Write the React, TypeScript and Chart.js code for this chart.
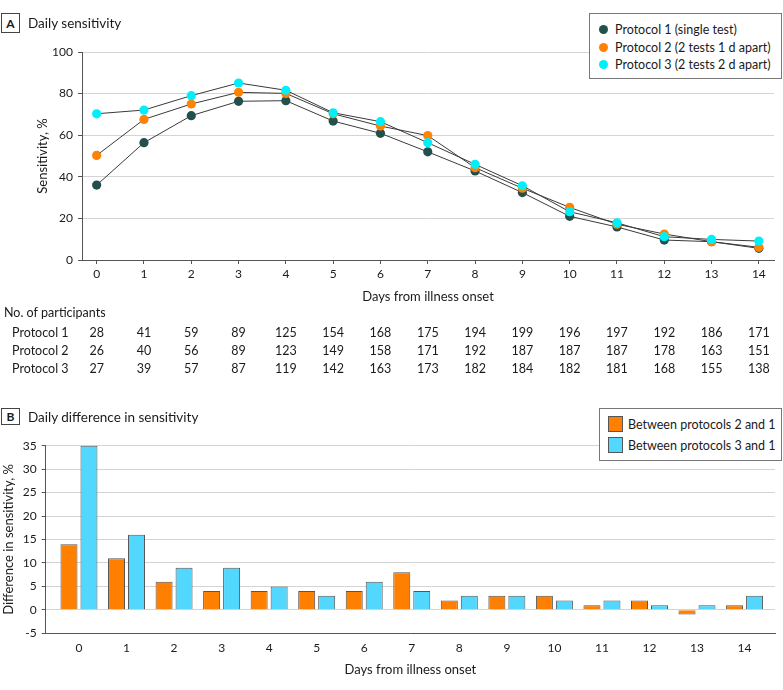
import React, { useEffect, useRef } from "react";
import { Chart, registerables } from "chart.js";

Chart.register(...registerables);

const FONT = "Lato";
const TEXT = "#1a1a1a";

const days = [0, 1, 2, 3, 4, 5, 6, 7, 8, 9, 10, 11, 12, 13, 14];
const protocol1 = [36, 56.4, 69.4, 76.3, 76.6, 66.8, 60.9, 52, 42.8, 32.4, 21, 15.9, 9.6, 8.8, 5.6];
const protocol2 = [50.3, 67.6, 75, 80.6, 80.1, 70.3, 64.4, 59.8, 44.4, 34.5, 25.3, 17.2, 12.5, 8.8, 6.1];
const protocol3 = [70.3, 72.1, 79, 85.1, 81.6, 70.8, 66.5, 56.4, 46, 35.7, 23.2, 17.9, 11.2, 9.9, 9.1];

const seriesNames = ["Protocol 1 (single test)", "Protocol 2 (2 tests 1 d apart)", "Protocol 3 (2 tests 2 d apart)"];
const seriesColors = ["#23504c", "#ff8205", "#00f0fa"];

const tableTitle = "No. of participants";
const tableLabels = ["Protocol 1", "Protocol 2", "Protocol 3"];
const participants1 = [28, 41, 59, 89, 125, 154, 168, 175, 194, 199, 196, 197, 192, 186, 171];
const participants2 = [26, 40, 56, 89, 123, 149, 158, 171, 192, 187, 187, 187, 178, 163, 151];
const participants3 = [27, 39, 57, 87, 119, 142, 163, 173, 182, 184, 182, 181, 168, 155, 138];

const diff21 = [14, 11, 6, 4, 4, 4, 4, 8, 2, 3, 3, 1, 2, -1, 1];
const diff31 = [35, 16, 9, 9, 5, 3, 6, 4, 3, 3, 2, 2, 1, 1, 3];
const diffNames = ["Between protocols 2 and 1", "Between protocols 3 and 1"];
const diffColors = ["#ff8000", "#52d8ff"];

const xTitle = "Days from illness onset";

const tablePlugin = {
  id: "participantsTable",
  afterDraw(chart: any) {
    const ctx = chart.ctx;
    const xs = chart.scales.x;
    const rows = [participants1, participants2, participants3];
    ctx.save();
    ctx.font = `12.5px ${FONT}`;
    ctx.fillStyle = TEXT;
    ctx.textBaseline = "middle";
    ctx.textAlign = "left";
    ctx.fillText(tableTitle, 4, 313);
    rows.forEach((row, r) => {
      const y = 333 + r * 18;
      ctx.textAlign = "left";
      ctx.fillText(tableLabels[r], 12, y);
      ctx.textAlign = "center";
      row.forEach((v, i) => ctx.fillText(String(v), xs.getPixelForValue(days[i]), y));
    });
    ctx.restore();
  },
};

const gridColor = "#d4d4d4";
const axisColor = "#555555";

export default function App() {
  const topRef = useRef<HTMLCanvasElement>(null);
  const botRef = useRef<HTMLCanvasElement>(null);

  useEffect(() => {
    const lineData = [protocol1, protocol2, protocol3];
    const top = new Chart(topRef.current!, {
      type: "line",
      data: {
        datasets: lineData.map((vals, k) => ({
          label: seriesNames[k],
          data: days.map((d, i) => ({ x: d, y: vals[i] })),
          borderColor: "#3a3a3a",
          borderWidth: 1,
          pointBackgroundColor: seriesColors[k],
          pointBorderColor: seriesColors[k],
          pointBorderWidth: 0,
          pointRadius: 4.6,
          tension: 0,
          fill: false,
          order: 3 - k,
        })),
      },
      options: {
        responsive: false,
        animation: false,
        layout: { padding: { top: 52, left: 0, right: 9, bottom: 75 } },
        plugins: { legend: { display: false }, tooltip: { enabled: false } },
        scales: {
          x: {
            type: "linear",
            min: -0.31,
            max: 14.32,
            offset: false,
            afterFit: (s: any) => { s.height = 50; },
            afterBuildTicks: (s: any) => { s.ticks = days.map((d) => ({ value: d })); },
            ticks: { stepSize: 1, padding: 3, color: TEXT, font: { family: FONT, size: 12 } },
            grid: { drawOnChartArea: false, drawTicks: true, tickLength: 4, tickColor: axisColor },
            border: { color: axisColor, width: 1 },
            title: { display: true, text: xTitle, color: TEXT, font: { family: FONT, size: 13 }, padding: { top: 0, bottom: 5 } },
          },
          y: {
            min: 0,
            max: 100,
            afterFit: (s: any) => { s.width = 82; },
            ticks: { stepSize: 20, padding: 5, color: TEXT, font: { family: FONT, size: 12 } },
            grid: { color: gridColor, tickLength: 4, tickColor: axisColor },
            border: { color: axisColor, width: 1 },
            title: { display: true, text: "Sensitivity, %", color: TEXT, font: { family: FONT, size: 13 }, padding: { top: 35, bottom: 0 } },
          },
        },
      },
      plugins: [tablePlugin],
    } as any);

    const barData = [diff21, diff31];
    const bot = new Chart(botRef.current!, {
      type: "bar",
      data: {
        datasets: barData.map((vals, k) => ({
          label: diffNames[k],
          data: days.map((d, i) => ({ x: d, y: vals[i] })),
          backgroundColor: diffColors[k],
          borderColor: "#555555",
          borderWidth: 1,
          categoryPercentage: 0.841,
          barPercentage: 0.85,
        })),
      },
      options: {
        responsive: false,
        animation: false,
        layout: { padding: { top: 60.7, left: 0, right: 8, bottom: 6.7 } },
        plugins: { legend: { display: false }, tooltip: { enabled: false } },
        scales: {
          x: {
            type: "linear",
            min: -0.7,
            max: 14.64,
            offset: false,
            afterFit: (s: any) => { s.height = 50; },
            afterBuildTicks: (s: any) => { s.ticks = days.map((d) => ({ value: d })); },
            ticks: { stepSize: 1, padding: 8, color: TEXT, font: { family: FONT, size: 12 } },
            grid: { offset: false, drawOnChartArea: false, drawTicks: false },
            border: { color: axisColor, width: 1 },
            title: { display: true, text: xTitle, color: TEXT, font: { family: FONT, size: 13 }, padding: { top: 0, bottom: 5.5 } },
          },
          y: {
            min: -5,
            max: 35,
            afterFit: (s: any) => { s.width = 45.7; },
            ticks: { stepSize: 5, padding: 5, color: TEXT, font: { family: FONT, size: 12 } },
            grid: { color: gridColor, tickLength: 4, tickColor: axisColor },
            border: { color: axisColor, width: 1 },
            title: { display: true, text: "Difference in sensitivity, %", color: TEXT, font: { family: FONT, size: 13 }, padding: { top: 1, bottom: 0 } },
          },
        },
      },
    } as any);

    return () => {
      top.destroy();
      bot.destroy();
    };
  }, []);

  const boxStyle = (top: number, h: number): React.CSSProperties => ({
    position: "absolute",
    left: 1,
    top,
    width: 19,
    height: h,
    border: "1px solid #444",
    boxSizing: "border-box",
    fontWeight: 700,
    fontSize: 12,
    display: "flex",
    alignItems: "center",
    justifyContent: "center",
    background: "#fff",
  });
  const headStyle = (top: number): React.CSSProperties => ({
    position: "absolute",
    left: 28,
    top,
    fontSize: 13.5,
    lineHeight: "20px",
    whiteSpace: "nowrap",
  });

  return (
    <div style={{ position: "absolute", left: 0, top: 0, width: 783, height: 690, background: "#fff", fontFamily: FONT, color: TEXT, overflow: "hidden" }}>
      <canvas ref={topRef} width={783} height={385} style={{ position: "absolute", left: 0, top: 0, display: "block" }} />
      <canvas ref={botRef} width={783} height={305} style={{ position: "absolute", left: 0, top: 385, display: "block" }} />

      <div style={boxStyle(13, 20)}>A</div>
      <div style={headStyle(13)}>Daily sensitivity</div>
      <div style={boxStyle(408, 17)}>B</div>
      <div style={headStyle(406.5)}>Daily difference in sensitivity</div>

      <div style={{ position: "absolute", left: 589, top: 13, width: 193, height: 66, border: "1px solid #777", boxSizing: "border-box", background: "#fff" }}>
        {seriesNames.map((n, k) => (
          <div key={n} style={{ position: "absolute", left: 9, top: 7 + k * 17.7, height: 17, display: "flex", alignItems: "center", whiteSpace: "nowrap", fontSize: 12.5 }}>
            <span style={{ width: 9, height: 9, borderRadius: "50%", background: seriesColors[k], display: "inline-block", marginRight: 7 }} />
            {n}
          </div>
        ))}
      </div>

      <div style={{ position: "absolute", left: 599, top: 408, width: 183, height: 53, border: "1px solid #777", boxSizing: "border-box", background: "#fff" }}>
        {diffNames.map((n, k) => (
          <div key={n} style={{ position: "absolute", left: 8, top: 7 + k * 21.3, height: 16, display: "flex", alignItems: "center", whiteSpace: "nowrap", fontSize: 12.5 }}>
            <span style={{ width: 15, height: 16, background: diffColors[k], border: "1px solid #555", boxSizing: "border-box", display: "inline-block", marginRight: 5 }} />
            {n}
          </div>
        ))}
      </div>
    </div>
  );
}
